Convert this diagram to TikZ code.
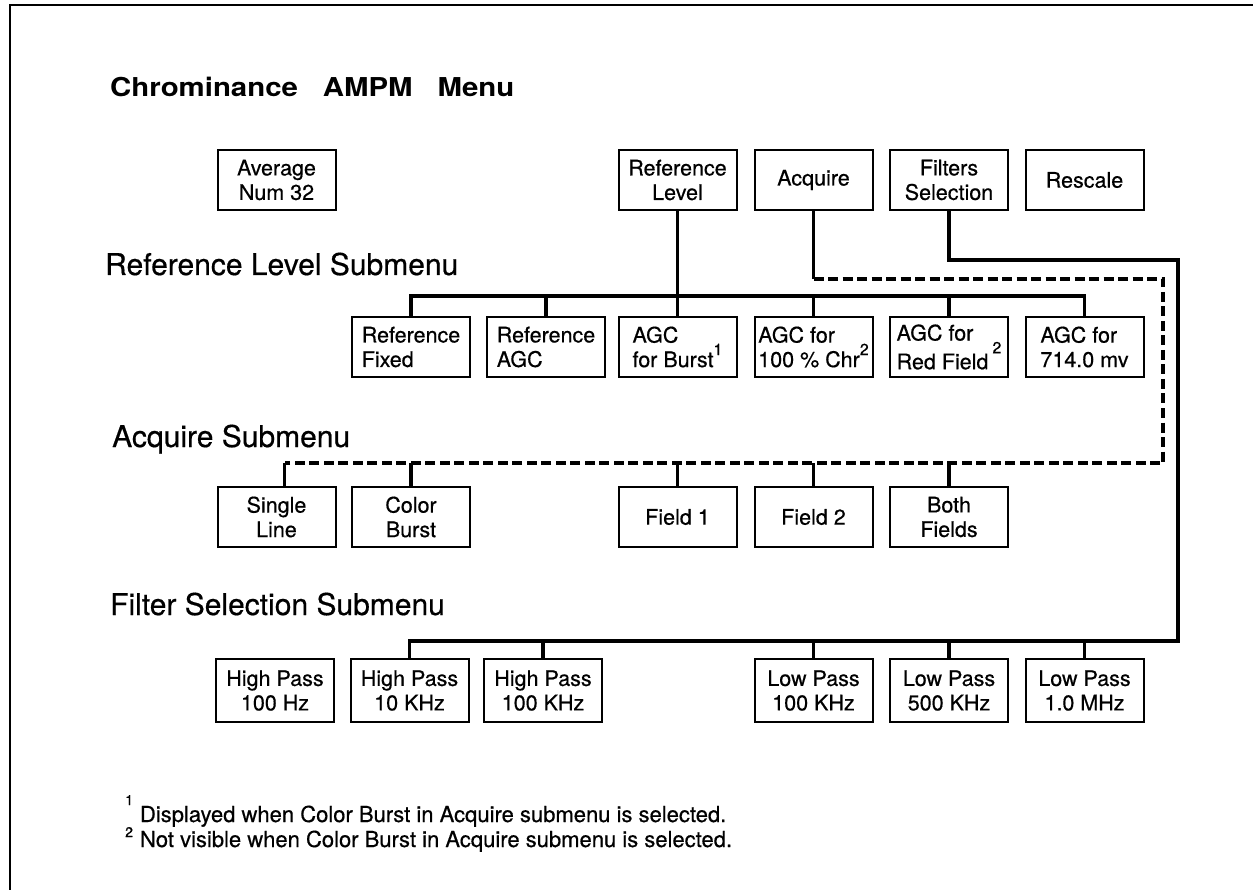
\documentclass[tikz,border=0pt]{standalone}
\usepackage{fontspec}
\setmainfont{TeX Gyre Heros}[FakeBold=0.5]
\newfontfamily\widefam{TeX Gyre Heros}[FakeStretch=1.13, BoldFeatures={FakeStretch=1.13}]

% text sizes
\newcommand\boxfont{\fontsize{21.5pt}{24.5pt}\selectfont}
\newcommand\headfont{\fontsize{30pt}{34pt}\selectfont}
\newcommand\titlefont{\widefam\bfseries\fontsize{26pt}{30pt}\selectfont}
\newcommand\notefont{\fontsize{22pt}{26pt}\selectfont}
\newcommand\supnum[2]{\raisebox{#1}{\fontsize{16pt}{16pt}\selectfont #2}}

\tikzset{
  menubox/.style={draw, line width=2pt, minimum width=118pt, minimum height=60pt,
                  inner sep=0pt, align=center, font=\boxfont},
  leftbox/.style={menubox, align=left},
  link/.style={line width=3.5pt, line join=miter},
  dlink/.style={line width=3.5pt, dash pattern=on 10pt off 4.5pt},
  heading/.style={anchor=base west, inner sep=0pt},
}

\begin{document}
\begin{tikzpicture}[x=1pt, y=-1pt]
\useasboundingbox (0,0) rectangle (1253,890);

% page frame
\draw[line width=2pt] (10,890) -- (10,5) -- (1253,5);

% headings
\node[heading, font=\titlefont] (title) at (110,97)
  {Chrominance\hspace{25pt}AMPM\hspace{25pt}Menu};
\node[heading, font=\headfont] (hdref) at (105,275) {Reference Level Submenu};
\node[heading, font=\headfont] (hdacq) at (112,447) {Acquire Submenu};
\node[heading, font=\headfont] (hdfil) at (110,615) {Filter Selection Submenu};

% main menu
\node[menubox] (avg)      at (276.5,180) {Average\\Num 32};
\node[menubox] (reflevel) at (677.5,180) {Reference\\Level};
\node[menubox] (acquire)  at (813.5,180) {Acquire};
\node[menubox] (filters)  at (949,180)   {Filters\\Selection};
\node[menubox] (rescale)  at (1084.5,180) {Rescale};

% reference level submenu
\node[leftbox] (reffixed) at (411,347)    {Reference\\Fixed};
\node[leftbox] (refagc)   at (546,347)    {Reference\\AGC};
\node[leftbox] (agcburst) at (677.5,347)  {AGC\\for Burst\supnum{12pt}{1}};
\node[leftbox] (agc100)   at (813.5,347)  {AGC for\\100 \% Chr\supnum{12pt}{2}};
\node[leftbox] (agcred)   at (949,347)    {AGC for\\Red Field\hspace{4pt}\supnum{16pt}{2}};
\node[leftbox] (agc714)   at (1084.5,347) {AGC for\\714.0 mv};

% acquire submenu
\node[menubox] (single) at (276.5,517) {Single\\Line};
\node[menubox] (cburst) at (411,517)   {Color\\Burst};
\node[menubox] (field1) at (677.5,517) {Field 1};
\node[menubox] (field2) at (813.5,517) {Field 2};
\node[menubox] (both)   at (949,517)   {Both\\Fields};

% filter selection submenu
\node[menubox, minimum height=63pt] (hp100)  at (275,690.5)    {High Pass\\100 Hz};
\node[menubox, minimum height=63pt] (hp10k)  at (409.5,690.5)  {High Pass\\10 KHz};
\node[menubox, minimum height=63pt] (hp100k) at (543,690.5)    {High Pass\\100 KHz};
\node[menubox, minimum height=63pt] (lp100k) at (813.5,690.5)  {Low Pass\\100 KHz};
\node[menubox, minimum height=63pt] (lp500k) at (949,690.5)    {Low Pass\\500 KHz};
\node[menubox, minimum height=63pt] (lp1m)   at (1084.5,690.5) {Low Pass\\1.0 MHz};

% footnotes
\node[heading, font=\notefont] (noteA) at (125,822)
  {\raisebox{17pt}{\fontsize{14pt}{14pt}\selectfont 1}\hspace{7pt}Displayed when Color Burst in Acquire submenu is selected.};
\node[heading, font=\notefont] (noteB) at (125,847)
  {\raisebox{10pt}{\fontsize{14pt}{14pt}\selectfont 2}\hspace{7pt}Not visible when Color Burst in Acquire submenu is selected.};

% bus levels and turning points
\coordinate (rbus)  at (0,296);
\coordinate (aturn) at (0,279);
\coordinate (acornA) at (1163,279);
\coordinate (acornB) at (1163,463);
\coordinate (abus)  at (0,463);
\coordinate (fturn) at (0,260);
\coordinate (fcornA) at (1178,260);
\coordinate (fcornB) at (1178,641);
\coordinate (fbus)  at (0,641);

% reference level branch
\draw[link] (reflevel.south) -- (agcburst.north);
\draw[link] (reffixed.north) -- (reffixed.north |- rbus) -- (agc714.north |- rbus) -- (agc714.north);
\foreach \n in {refagc, agc100, agcred}
  \draw[link] (\n.north) -- (\n.north |- rbus);

% acquire branch
\draw[link] (acquire.south) -- (acquire.south |- aturn);
\draw[dlink] (acquire.south |- aturn) -- (acornA) -- (acornB)
  -- ([xshift=8pt]single.north |- abus);
\draw[link] ([xshift=8pt]single.north) -- ([xshift=8pt]single.north |- abus);
\foreach \n in {cburst, field1, field2, both}
  \draw[link] (\n.north) -- (\n.north |- abus);

% filter selection branch
\draw[link] (filters.south) -- (filters.south |- fturn) -- (fcornA) -- (fcornB)
  -- (hp10k.north |- fbus) -- (hp10k.north);
\foreach \n in {hp100k, lp100k, lp500k, lp1m}
  \draw[link] (\n.north) -- (\n.north |- fbus);
\end{tikzpicture}
\end{document}
